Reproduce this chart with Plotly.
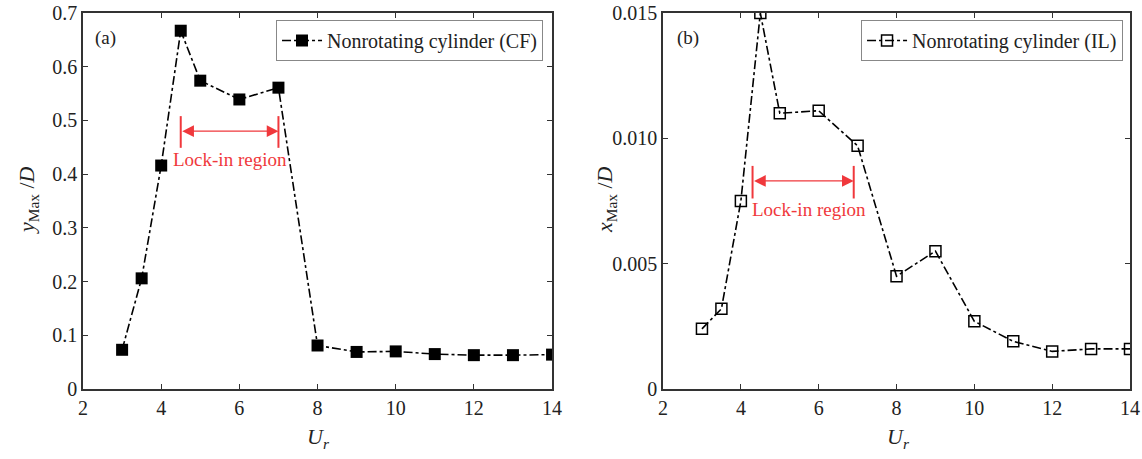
import plotly.graph_objects as go

ur = [3, 3.5, 4, 4.5, 5, 6, 7, 8, 9, 10, 11, 12, 13, 14]
cf_vals = [0.073, 0.206, 0.416, 0.667, 0.574, 0.539, 0.561, 0.081, 0.069, 0.070, 0.065, 0.063, 0.063, 0.064]
il_vals = [0.0024, 0.0032, 0.0075, 0.0150, 0.0110, 0.0111, 0.0097, 0.0045, 0.0055, 0.0027, 0.0019, 0.0015, 0.0016, 0.0016]

x_ticks = [2, 4, 6, 8, 10, 12, 14]
cf_ticks = [0, 0.1, 0.2, 0.3, 0.4, 0.5, 0.6, 0.7]
cf_ticktext = ["0", "0.1", "0.2", "0.3", "0.4", "0.5", "0.6", "0.7"]
il_ticks = [0, 0.005, 0.010, 0.015]
il_ticktext = ["0", "0.005", "0.010", "0.015"]

lock_cf = [4.5, 7.0]
lock_il = [4.3, 6.9]

FONT = "Liberation Serif"
RED = "#F0383C"
AX = "#333333"
TXT = "#222222"

fig = go.Figure()
fig.add_trace(go.Scatter(
    x=ur, y=cf_vals, mode="lines+markers", name="Nonrotating cylinder (CF)",
    line=dict(color="black", width=1.6, dash="dashdot"),
    marker=dict(symbol="square", size=12, color="black"),
    xaxis="x", yaxis="y", legend="legend", showlegend=True))
fig.add_trace(go.Scatter(
    x=ur, y=il_vals, mode="lines+markers", name="Nonrotating cylinder (IL)",
    line=dict(color="black", width=1.6, dash="dashdot"),
    marker=dict(symbol="square-open", size=11, color="black", line=dict(width=1.5)),
    xaxis="x2", yaxis="y2", legend="legend2", showlegend=True))

axis_common = dict(
    showline=True, linecolor=AX, linewidth=1.5, mirror="ticks",
    ticks="inside", ticklen=5, tickwidth=1.2, tickcolor=AX,
    showgrid=False, zeroline=False, automargin=False,
    ticklabeloverflow="allow",
    tickfont=dict(family=FONT, size=20, color=TXT),
)

legend_common = dict(
    yanchor="top", xanchor="right",
    bordercolor="#888", borderwidth=1, bgcolor="white",
    font=dict(family=FONT, size=20, color=TXT),
    itemwidth=40, tracegroupgap=0, visible=True,
)

fig.update_layout(
    template="none",
    width=1142, height=459,
    margin=dict(l=0, r=0, t=0, b=0, autoexpand=False),
    paper_bgcolor="white", plot_bgcolor="white",
    showlegend=True,
    font=dict(family=FONT, color=TXT),
    xaxis=dict(domain=[0.0727, 0.4834], range=[2, 14], tickvals=x_ticks, anchor="y", **axis_common),
    yaxis=dict(domain=[0.1525, 0.9717], range=[0, 0.7], tickvals=cf_ticks, ticktext=cf_ticktext, anchor="x", **axis_common),
    xaxis2=dict(domain=[0.5806, 0.9895], range=[2, 14], tickvals=x_ticks, anchor="y2", **axis_common),
    yaxis2=dict(domain=[0.1525, 0.9717], range=[0, 0.015], tickvals=il_ticks, ticktext=il_ticktext, anchor="x2", **axis_common),
    legend=dict(x=0.4755, y=1-20/459, **legend_common),
    legend2=dict(x=0.9834, y=1-20/459, **legend_common),
)

def txt(text, x, y, size, color=TXT, angle=0, xref="paper", yref="paper"):
    return dict(text=text, x=x, y=y, xref=xref, yref=yref, textangle=angle,
                showarrow=False, xanchor="center", yanchor="middle",
                font=dict(family=FONT, size=size, color=color))

annos = [
    txt("<i>y</i><sub>Max</sub> /<i>D</i>", 28/1142, 1-200/459, 22, angle=-90),
    txt("<i>x</i><sub>Max</sub> /<i>D</i>", 606/1142, 1-200/459, 22, angle=-90),
    txt("<i>U</i><sub><i>r</i></sub>", 318/1142, 1-438/459, 22),
    txt("<i>U</i><sub><i>r</i></sub>", 898/1142, 1-438/459, 22),
    txt("(a)", 106/1142, 1-38/459, 19),
    txt("(b)", 688/1142, 1-38/459, 19),
    txt("Lock-in region", 5.75, 0.427, 19, color=RED, xref="x", yref="y"),
    txt("Lock-in region", 5.75, 0.00715, 19, color=RED, xref="x2", yref="y2"),
]
annos.append(dict(x=lock_cf[1], y=0.48, ax=lock_cf[0], ay=0.48, xref="x", yref="y",
                  axref="x", ayref="y", text="", showarrow=True, arrowhead=2,
                  startarrowhead=2, arrowside="end+start", arrowcolor=RED,
                  arrowwidth=1.3, arrowsize=1.8, startarrowsize=1.8))
annos.append(dict(x=lock_il[1], y=0.0083, ax=lock_il[0], ay=0.0083, xref="x2", yref="y2",
                  axref="x2", ayref="y2", text="", showarrow=True, arrowhead=2,
                  startarrowhead=2, arrowside="end+start", arrowcolor=RED,
                  arrowwidth=1.3, arrowsize=1.8, startarrowsize=1.8))
fig.update_layout(annotations=annos)

shapes = []
for xv in lock_cf:
    shapes.append(dict(type="line", xref="x", yref="y", x0=xv, x1=xv, y0=0.449, y1=0.508,
                       line=dict(color=RED, width=2)))
for xv in lock_il:
    shapes.append(dict(type="line", xref="x2", yref="y2", x0=xv, x1=xv, y0=0.0076, y1=0.0089,
                       line=dict(color=RED, width=2)))
fig.update_layout(shapes=shapes)

fig.write_html("out.html")
